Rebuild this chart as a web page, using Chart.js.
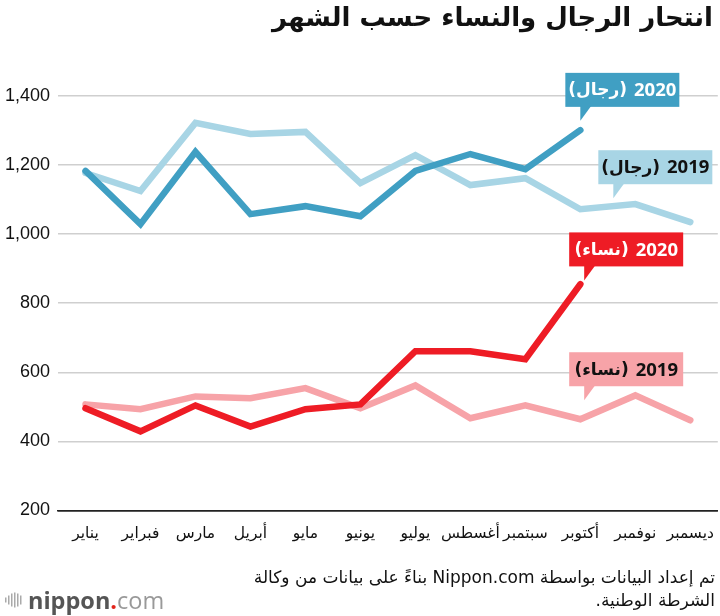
<!DOCTYPE html>
<html>
  <head>
    <meta charset="utf-8" />
    <script src="https://cdn.jsdelivr.net/npm/chart.js"></script>
    <style>
      body { margin: 0; background: #fff; }
    </style>
  </head>

  <body>
    <canvas id="chart" width="720" height="616"></canvas>
  </body>

  <script>
    var months = ["يناير", "فبراير", "مارس", "أبريل", "مايو", "يونيو", "يوليو", "أغسطس", "سبتمبر", "أكتوبر", "نوفمبر", "ديسمبر"];
    var men2019 = [1177, 1125, 1322, 1290, 1296, 1148, 1229, 1142, 1162, 1072, 1087, 1035];
    var men2020 = [1183, 1029, 1238, 1058, 1081, 1052, 1183, 1232, 1188, 1301];
    var women2019 = [507, 493, 530, 525, 554, 496, 562, 467, 504, 464, 533, 461];
    var women2020 = [496, 429, 504, 443, 493, 507, 661, 661, 638, 855];
    var yTicks = [200, 400, 600, 800, 1000, 1200, 1400];

    var title = "انتحار الرجال والنساء حسب الشهر";
    var source1 = "تم إعداد البيانات بواسطة Nippon.com بناءً على بيانات من وكالة";
    var source2 = "الشرطة الوطنية.";

    var arabicFont = "'DejaVu Sans', sans-serif";

    // callout boxes: tail tip sits on (index, value)
    var callouts = [
      { year: "2020", who: "(رجال)", index: 9, value: 1328, bg: "#409fc3", fg: "#ffffff" },
      { year: "2019", who: "(رجال)", index: 9.6, value: 1104, bg: "#a8d5e5", fg: "#111111" },
      { year: "2020", who: "(نساء)", index: 9.07, value: 866, bg: "#ee1c25", fg: "#ffffff" },
      { year: "2019", who: "(نساء)", index: 9.07, value: 519, bg: "#f7a3a8", fg: "#111111" },
    ];

    var extras = {
      id: "extras",
      afterDraw(chart) {
        const ctx = chart.ctx;
        const x = chart.scales.x;
        const y = chart.scales.y;
        ctx.save();

        // title
        ctx.direction = "rtl";
        ctx.textAlign = "right";
        ctx.textBaseline = "middle";
        ctx.fillStyle = "#111";
        ctx.font = "bold 26px " + arabicFont;
        ctx.fillText(title, 713, 19);

        // source
        ctx.font = "17px " + arabicFont;
        ctx.fillText(source1, 715, 579);
        ctx.fillText(source2, 715, 602);

        // callouts: label on the left, year on the right (right-to-left reading)
        ctx.direction = "ltr";
        ctx.textAlign = "left";
        callouts.forEach(function (c) {
          const tx = x.getPixelForValue(c.index);
          const ty = y.getPixelForValue(c.value);
          const bw = 114, bh = 34;
          const bx = tx - 15, by = ty - 14 - bh;
          ctx.fillStyle = c.bg;
          ctx.fillRect(bx, by, bw, bh);
          ctx.beginPath();
          ctx.moveTo(tx, by + bh - 1);
          ctx.lineTo(tx + 11, by + bh - 1);
          ctx.lineTo(tx, ty);
          ctx.closePath();
          ctx.fill();
          ctx.fillStyle = c.fg;
          ctx.font = "bold 17px " + arabicFont;
          const w1 = ctx.measureText(c.who).width;
          ctx.font = "bold 18.5px 'Open Sans', sans-serif";
          const w2 = ctx.measureText(c.year).width;
          const gap = 7;
          const sx = bx + (bw - (w1 + gap + w2)) / 2;
          ctx.fillText(c.year, sx + w1 + gap, by + bh / 2 + 1);
          ctx.font = "bold 17px " + arabicFont;
          ctx.fillText(c.who, sx, by + bh / 2 + 1);
        });

        // logo
        ctx.fillStyle = "#aaa";
        [5, 9, 13, 15, 13, 9].forEach(function (h, i) {
          ctx.fillRect(5 + i * 3, 600 - h / 2, 1.5, h);
        });
        ctx.textAlign = "left";
        ctx.textBaseline = "alphabetic";
        ctx.font = "bold 23.5px 'Open Sans', sans-serif";
        ctx.fillStyle = "#555";
        ctx.fillText("nippon", 28, 609);
        let lx = 28 + ctx.measureText("nippon").width;
        ctx.fillStyle = "#e2231a";
        ctx.fillText(".", lx, 609);
        lx += ctx.measureText(".").width;
        ctx.font = "23.5px 'Open Sans', sans-serif";
        ctx.fillStyle = "#999";
        ctx.fillText("com", lx, 609);

        ctx.restore();
      },
    };

    function line(label, data, colour, order) {
      return {
        label: label,
        data: data,
        borderColor: colour,
        backgroundColor: colour,
        borderWidth: 6.5,
        borderCapStyle: "round",
        borderJoinStyle: "miter",
        pointRadius: 0,
        tension: 0,
        fill: false,
        order: order,
      };
    }

    const ctx = document.getElementById("chart").getContext("2d");
    const chart = new Chart(ctx, {
      type: "line",
      data: {
        labels: months,
        datasets: [
          line("2019 (رجال)", men2019, "#a8d5e5", 1),
          line("2020 (رجال)", men2020, "#409fc3", 0),
          line("2019 (نساء)", women2019, "#f7a3a8", 1),
          line("2020 (نساء)", women2020, "#ee1c25", 0),
        ],
      },
      options: {
        responsive: false,
        animation: false,
        layout: {
          padding: { top: 96, left: 4, right: 2, bottom: 67 },
        },
        scales: {
          x: {
            offset: true,
            grid: { display: false },
            border: { display: true, color: "#222", width: 1.5 },
            ticks: {
              color: "#111",
              padding: 6,
              maxRotation: 0,
              autoSkip: false,
              font: { family: "DejaVu Sans", size: 15.5 },
            },
          },
          y: {
            min: 200,
            max: 1400,
            afterBuildTicks: function (axis) {
              axis.ticks = yTicks.map(function (v) { return { value: v }; });
            },
            afterFit: function (axis) {
              axis.width = 54;
            },
            border: { display: false },
            grid: {
              drawTicks: false,
              lineWidth: 1.5,
              color: function (c) { return c.tick && c.tick.value === 200 ? "#222" : "#cfcfcf"; },
            },
            ticks: {
              color: "#111",
              padding: 8,
              font: { family: "Liberation Sans", size: 18 },
              callback: function (v) { return v.toLocaleString("en-US"); },
            },
          },
        },
        plugins: {
          legend: { display: false },
          tooltip: { enabled: false },
        },
      },
      plugins: [extras],
    });
  </script>
</html>
